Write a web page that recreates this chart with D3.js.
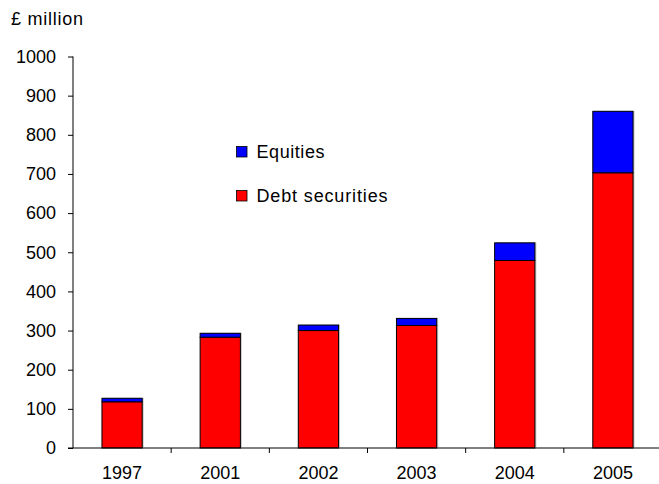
<!DOCTYPE html>
<html>
<head>
<meta charset="utf-8">
<script src="https://cdn.jsdelivr.net/npm/d3@7/dist/d3.min.js"></script>
<style>
  html, body { margin: 0; padding: 0; background: #fff; }
  svg text { font-family: "Liberation Sans", Arial, sans-serif; fill: #000; }
</style>
</head>
<body>
<svg id="chart" width="659" height="484"></svg>
<script>
// Financial assets by year, £ million
const years = ["1997", "2001", "2002", "2003", "2004", "2005"];
const debtSecurities = [118, 283, 300, 313, 479, 703];
const equities = [9, 10, 14, 18, 45, 157];
const yTicks = [0, 100, 200, 300, 400, 500, 600, 700, 800, 900, 1000];
const seriesNames = ["Debt securities", "Equities"];
const seriesColors = ["#ff0000", "#0000ff"];

const svg = d3.select("#chart");
const W = 659;
const plotLeft = 73, plotRight = 662;
const FS = 18;

const x = d3.scaleBand()
  .domain(years)
  .range([plotLeft, plotRight])
  .paddingInner(0.59)
  .paddingOuter(0.295);

const y = d3.scaleLinear()
  .domain([0, 1000])
  .range([448, 56.5]);

const rows = years.map((yr, i) => ({ year: yr, "Debt securities": debtSecurities[i], "Equities": equities[i] }));
const stacked = d3.stack().keys(seriesNames)(rows);

// bars, with a soft grey shadow along the right edge
const g = svg.append("g");
stacked.forEach(layer => {
  g.selectAll(null).data(layer).enter().append("rect")
    .attr("x", d => x(d.data.year) + 1.5)
    .attr("y", d => y(d[1]) - 0.5)
    .attr("width", x.bandwidth())
    .attr("height", d => y(d[0]) - y(d[1]))
    .attr("fill", "#c8c8c8");
});
stacked.forEach((layer, si) => {
  g.selectAll(null).data(layer).enter().append("rect")
    .attr("x", d => x(d.data.year))
    .attr("y", d => y(d[1]))
    .attr("width", x.bandwidth())
    .attr("height", d => y(d[0]) - y(d[1]))
    .attr("fill", seriesColors[si])
    .attr("stroke", "#000")
    .attr("stroke-width", 1);
});

// y axis
const yAxis = d3.axisLeft(y).tickValues(yTicks).tickSize(5).tickPadding(12).tickFormat(d3.format("d"));
const ya = svg.append("g").attr("transform", `translate(${plotLeft},0)`).call(yAxis);
ya.select(".domain").attr("stroke", "#000").attr("d", `M0,${y(1000)}V${y(0)}`);
ya.selectAll(".tick line").attr("stroke", "#000");
ya.selectAll(".tick text").attr("font-size", FS).attr("font-family", "Liberation Sans, Arial, sans-serif").attr("fill", "#000");

// x axis: ticks sit on category boundaries
const xa = svg.append("g").attr("transform", `translate(0,${y(0)})`);
xa.append("line").attr("x1", plotLeft - 5).attr("x2", W).attr("y1", 0).attr("y2", 0).attr("stroke", "#000");
const step = x.step();
const bounds = years.map((yr, i) => plotLeft + step * (i + 1));
xa.selectAll(null).data(bounds).enter().append("line")
  .attr("x1", d => d).attr("x2", d => d).attr("y1", 0).attr("y2", 5).attr("stroke", "#000");
xa.selectAll(null).data(years).enter().append("text")
  .attr("x", d => x(d) + x.bandwidth() / 2)
  .attr("y", 31)
  .attr("text-anchor", "middle")
  .attr("font-size", FS)
  .text(d => d);

// unit label
svg.append("text").attr("x", 11).attr("y", 25).attr("font-size", FS)
  .attr("textLength", 72).attr("lengthAdjust", "spacing").text("£ million");

// legend
const legend = [
  { name: "Equities", color: seriesColors[1], top: 146, len: 68 },
  { name: "Debt securities", color: seriesColors[0], top: 190, len: 131 }
];
const lg = svg.append("g");
lg.selectAll(null).data(legend).enter().append("rect")
  .attr("x", 236.5).attr("y", d => d.top + 0.5).attr("width", 10.5).attr("height", 10.5)
  .attr("fill", d => d.color).attr("stroke", "#000").attr("stroke-width", 0.8);
lg.selectAll(null).data(legend).enter().append("text")
  .attr("x", 256.5).attr("y", d => d.top + 11.5).attr("font-size", FS)
  .attr("textLength", d => d.len).attr("lengthAdjust", "spacing")
  .text(d => d.name);
</script>
</body>
</html>
